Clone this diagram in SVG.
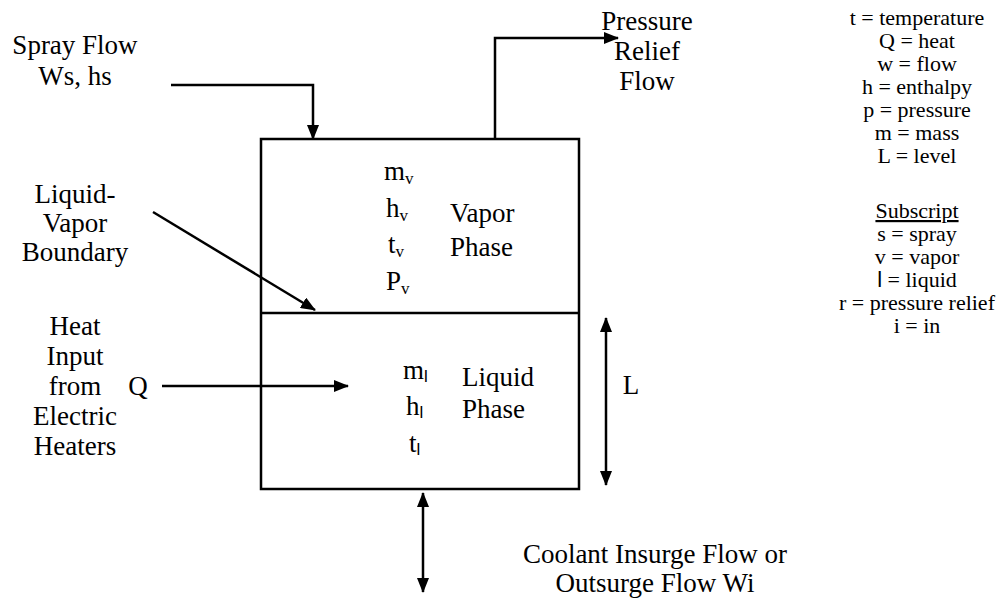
<svg xmlns="http://www.w3.org/2000/svg" width="1005" height="608" viewBox="0 0 1005 608">
<style>
.lab{font-size:27px;text-anchor:middle}
.var{font-size:27px}
.leg{font-size:22px;text-anchor:middle}
.sub{font-size:17px}
.ln{fill:none;stroke:#000;stroke-width:2.5}
</style>
<defs>
<marker id="ah" markerUnits="userSpaceOnUse" markerWidth="15" markerHeight="12" refX="14" refY="6" orient="auto-start-reverse">
<path d="M0,0 L15,6 L0,12 z" fill="#000"/>
</marker>
</defs>
<rect width="1005" height="608" fill="#fff"/>
<g font-family="Liberation Serif, Times New Roman, serif" fill="#000">
<g id="tank">
<rect x="261" y="139" width="318" height="350" class="ln"/>
<line x1="261" y1="313" x2="579" y2="313" class="ln"/>
</g>
<g id="vapor-phase">
<text class="var" x="384" y="180">m<tspan class="sub" dy="4">v</tspan></text>
<text class="var" x="386" y="217">h<tspan class="sub" dy="4">v</tspan></text>
<text class="var" x="388" y="253">t<tspan class="sub" dy="4">v</tspan></text>
<text class="var" x="386" y="290">P<tspan class="sub" dy="4">v</tspan></text>
<text class="var" x="450" y="222">Vapor</text>
<text class="var" x="450" y="256">Phase</text>
</g>
<g id="liquid-phase">
<text class="var" x="403" y="379">m<tspan class="sub" font-family="Liberation Sans, Arial, sans-serif" dy="3">l</tspan></text>
<text class="var" x="406" y="415">h<tspan class="sub" font-family="Liberation Sans, Arial, sans-serif" dy="3">l</tspan></text>
<text class="var" x="409" y="452">t<tspan class="sub" font-family="Liberation Sans, Arial, sans-serif" dy="3">l</tspan></text>
<text class="var" x="462" y="386">Liquid</text>
<text class="var" x="462" y="418">Phase</text>
</g>
<g id="spray-label">
<text class="lab" x="75" y="54">Spray Flow</text>
<text class="lab" x="75" y="85">Ws, hs</text>
</g>
<g id="relief-label">
<text class="lab" x="647" y="30">Pressure</text>
<text class="lab" x="647" y="60">Relief</text>
<text class="lab" x="647" y="90">Flow</text>
</g>
<g id="boundary-label">
<text class="lab" x="75" y="203">Liquid-</text>
<text class="lab" x="75" y="232">Vapor</text>
<text class="lab" x="75" y="261">Boundary</text>
</g>
<g id="heat-label">
<text class="lab" x="75" y="335">Heat</text>
<text class="lab" x="75" y="365">Input</text>
<text class="lab" x="75" y="395">from</text>
<text class="lab" x="75" y="425">Electric</text>
<text class="lab" x="75" y="455">Heaters</text>
<text class="lab" x="138" y="395">Q</text>
</g>
<g id="level-label">
<text class="lab" x="631" y="394">L</text>
</g>
<g id="surge-label">
<text class="lab" x="655" y="563">Coolant Insurge Flow or</text>
<text class="lab" x="655" y="592">Outsurge Flow Wi</text>
</g>
<g id="legend">
<text class="leg" x="917" y="25">t = temperature</text>
<text class="leg" x="917" y="48">Q = heat</text>
<text class="leg" x="917" y="71">w = flow</text>
<text class="leg" x="917" y="94">h = enthalpy</text>
<text class="leg" x="917" y="117">p = pressure</text>
<text class="leg" x="917" y="140">m = mass</text>
<text class="leg" x="917" y="163">L = level</text>
<text class="leg" x="917" y="218" text-decoration="underline">Subscript</text>
<text class="leg" x="917" y="241">s = spray</text>
<text class="leg" x="917" y="264">v = vapor</text>
<text class="leg" x="917" y="287"><tspan font-family="Liberation Sans, Arial, sans-serif">l</tspan> = liquid</text>
<text class="leg" x="917" y="310">r = pressure relief</text>
<text class="leg" x="917" y="333">i = in</text>
</g>
</g>
<g id="connectors">
<path class="ln" d="M171,85 H313 V139" marker-end="url(#ah)"/>
<path class="ln" d="M495,139 V38 H618" marker-end="url(#ah)"/>
<path class="ln" d="M153,212 L315,310" marker-end="url(#ah)"/>
<path class="ln" d="M162,386 H348" marker-end="url(#ah)"/>
<path class="ln" d="M606,318 V485" marker-start="url(#ah)" marker-end="url(#ah)"/>
<path class="ln" d="M423,493 V592" marker-start="url(#ah)" marker-end="url(#ah)"/>
</g>
</svg>
